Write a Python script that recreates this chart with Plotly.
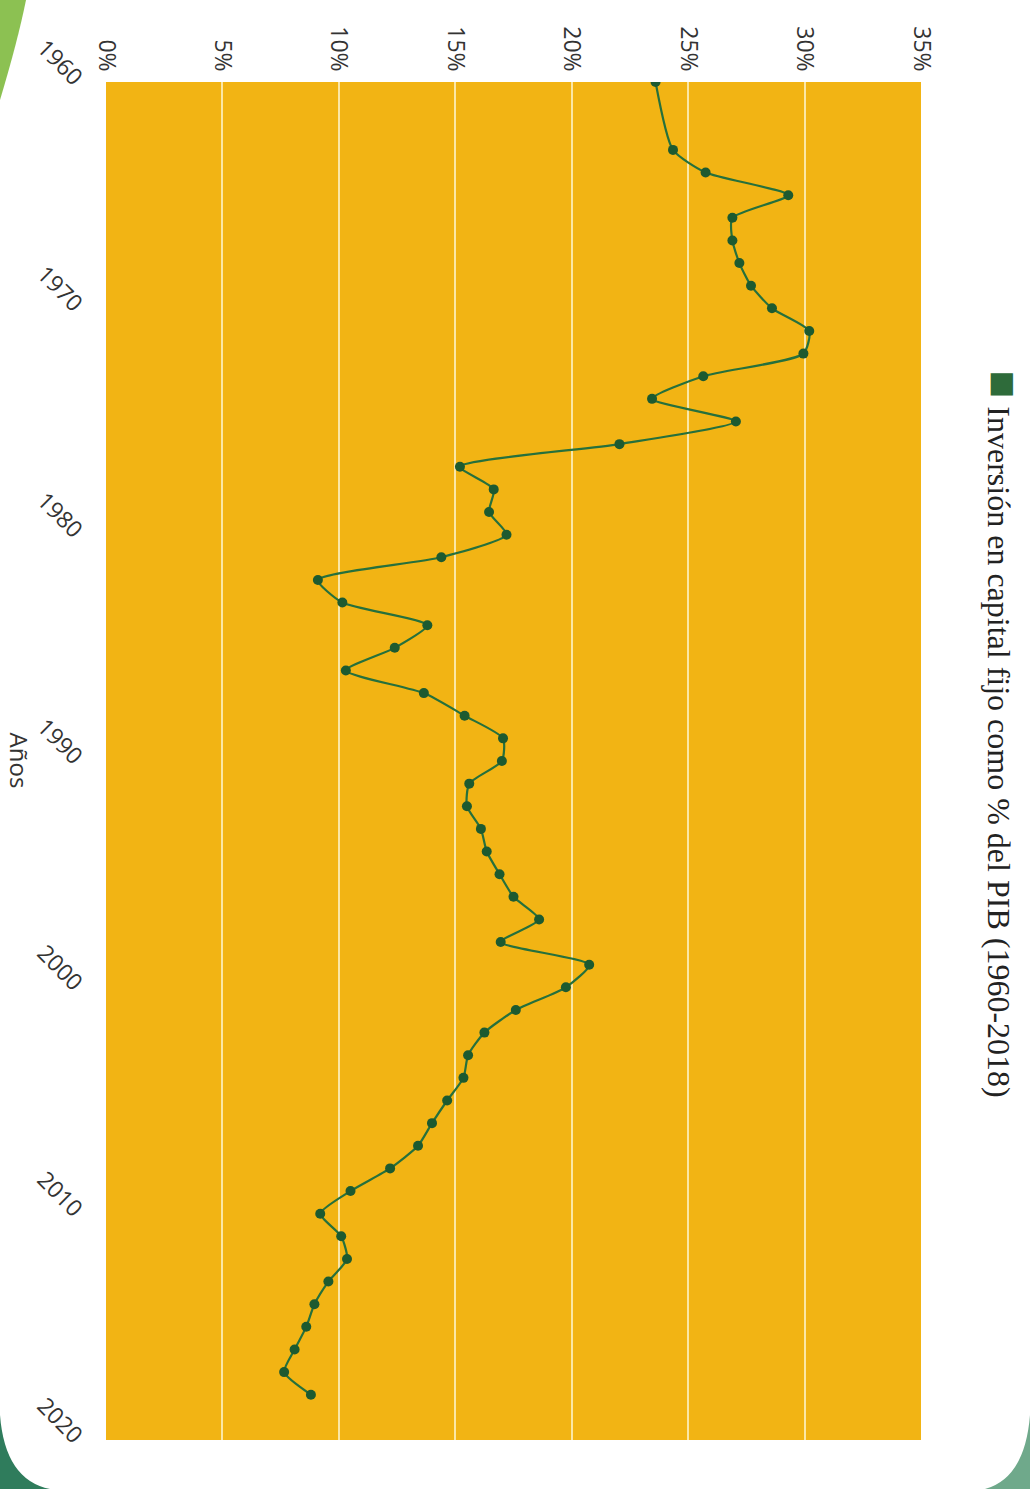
import plotly.graph_objects as go

years = [1960, 1963, 1964, 1965, 1966, 1967, 1968, 1969, 1970, 1971,
         1972, 1973, 1974, 1975, 1976, 1977, 1978, 1979, 1980, 1981,
         1982, 1983, 1984, 1985, 1986, 1987, 1988, 1989, 1990, 1991,
         1992, 1993, 1994, 1995, 1996, 1997, 1998, 1999, 2000, 2001,
         2002, 2003, 2004, 2005, 2006, 2007, 2008, 2009, 2010, 2011,
         2012, 2013, 2014, 2015, 2016, 2017, 2018]
inversion = [23.6, 24.35, 25.75, 29.3, 26.9, 26.9, 27.2, 27.7, 28.6, 30.2,
             29.95, 25.65, 23.45, 27.05, 22.05, 15.2, 16.65, 16.45, 17.2, 14.4,
             9.1, 10.15, 13.8, 12.4, 10.3, 13.65, 15.4, 17.05, 17.0, 15.6,
             15.5, 16.1, 16.35, 16.9, 17.5, 18.6, 16.95, 20.75, 19.75, 17.6,
             16.25, 15.55, 15.35, 14.65, 14.0, 13.4, 12.2, 10.5, 9.2, 10.1,
             10.35, 9.55, 8.95, 8.6, 8.1, 7.65, 8.8]
year_ticks = [1960, 1970, 1980, 1990, 2000, 2010, 2020]
pct_ticks = [0, 5, 10, 15, 20, 25, 30, 35]
series_name = "Inversión en capital fijo como % del PIB (1960-2018)"
axis_title = "Años"

W, H = 1030, 1489
ML, MR, MT, MB = 106, 109, 82, 49
PW, PH = W - ML - MR, H - MT - MB


def px(x, y):
    """Convert page pixels to paper coordinates (for page decoration only)."""
    return (x - ML) / PW, 1 - (y - MT) / PH


def path(points):
    parts = []
    for cmd, x, y in points:
        u, v = px(x, y)
        parts.append(f"{cmd}{u:.5f},{v:.5f}")
    return " ".join(parts) + " Z"


deco = [
    # bottom-left page corner (dark green)
    (path([("M", 0, 1415), ("Q", 5, 1480), ("", 50, 1489), ("L", 0, 1489)]), "#2F7C5C"),
    # bottom-right page corner (green)
    (path([("M", 1030, 1415), ("Q", 1025, 1478), ("", 985, 1489), ("L", 1030, 1489)]), "#6FA98B"),
    # top-left leaf (light green)
    (path([("M", 0, 0), ("L", 26, 0), ("Q", 18, 40), ("", 0, 100)]), "#8CC152"),
]
shapes = [dict(type="path", xref="paper", yref="paper", path=p, fillcolor=c,
               line=dict(width=0), layer="above") for p, c in deco]

fig = go.Figure()
fig.add_trace(go.Scatter(
    x=inversion, y=years, mode="lines+markers", name=series_name,
    line=dict(color="#26703C", width=2.2, shape="spline", smoothing=0.6),
    marker=dict(color="#1D5A30", size=10),
    showlegend=False,
))

fig.update_layout(
    width=W, height=H,
    margin=dict(l=ML, r=MR, t=MT, b=MB),
    paper_bgcolor="white",
    plot_bgcolor="#F2B414",
    font=dict(family="Open Sans", color="#333333", size=22),
    xaxis=dict(
        range=[0, 35], tickvals=pct_ticks,
        ticktext=[f"{v}%" for v in pct_ticks],
        side="top", tickangle=90, automargin=False,
        showgrid=True, gridcolor="#FBE7A6", gridwidth=2,
        zeroline=False, showline=False, ticks="", ticklabelstandoff=6,
        tickfont=dict(size=23, color="#333333"),
    ),
    yaxis=dict(
        range=[2020, 1960], tickvals=year_ticks, automargin=False,
        tickangle=45, showgrid=False, zeroline=False, showline=False,
        ticks="", ticklabelstandoff=24,
        tickfont=dict(size=23, color="#333333"),
    ),
    shapes=shapes,
    annotations=[
        dict(text=axis_title, textangle=90, xref="paper", yref="paper",
             x=-0.105, y=0.5, xanchor="center", yanchor="middle",
             showarrow=False, font=dict(size=24, color="#333333")),
        dict(text="<span style='color:#2E6B3A;font-size:46px'>■</span> " + series_name,
             textangle=90, xref="paper", yref="paper",
             x=1.101, y=0.52, xanchor="center", yanchor="middle",
             showarrow=False,
             font=dict(family="Liberation Serif", size=32, color="#222222")),
    ],
)

fig.write_html("out.html",
               config={"displayModeBar": False},
               post_script="document.body.style.margin='0';document.body.style.overflow='hidden';")
